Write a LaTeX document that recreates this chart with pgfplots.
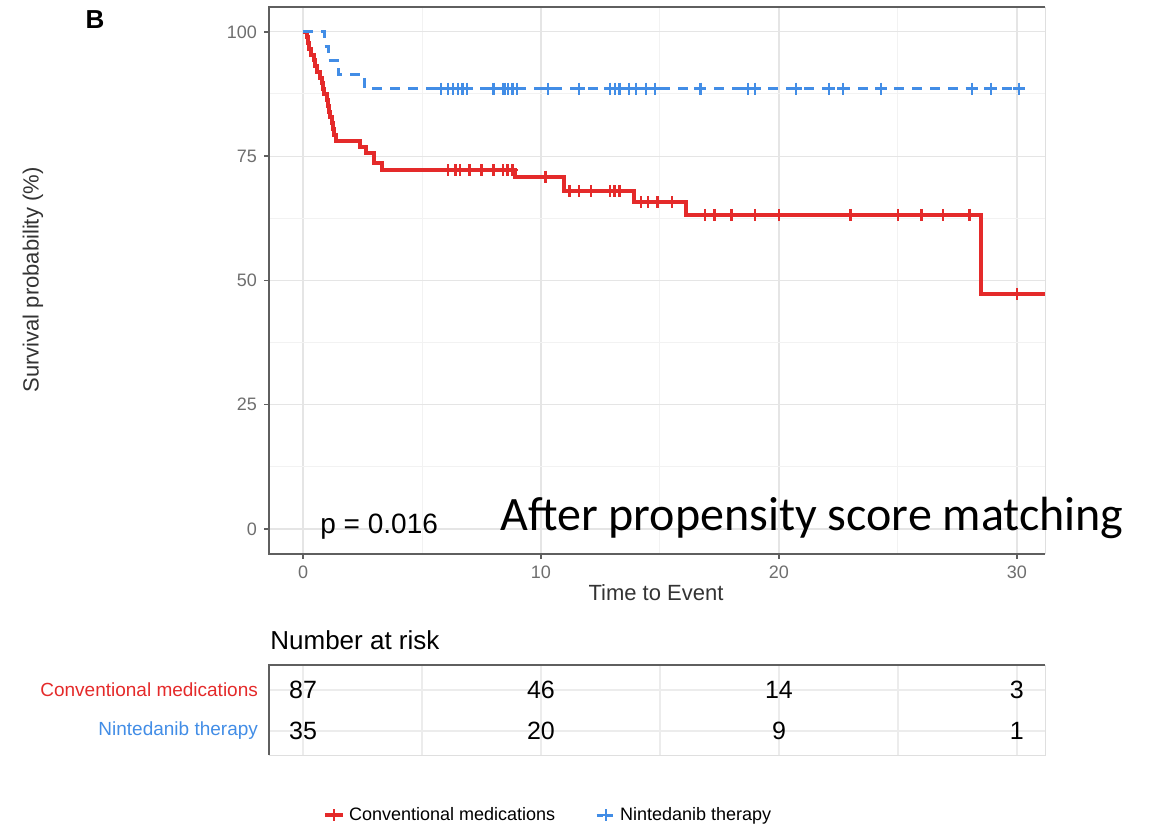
\documentclass[border=0pt]{standalone}
\usepackage{pgfplots}
\pgfplotsset{compat=1.18}
\usepackage{fontspec}
\setmainfont{Liberation Sans}
\newfontfamily\calibri{Carlito}
\definecolor{kmred}{RGB}{228,42,42}
\definecolor{kmblue}{RGB}{66,141,230}
\definecolor{tickgray}{RGB}{110,110,110}
\definecolor{framegray}{RGB}{95,95,95}
\begin{document}
\begin{tikzpicture}
\useasboundingbox (0,0) rectangle (575.5pt,413.5pt);
\begin{axis}[name=main, at={(134.5pt,136.6pt)}, anchor=south west,
  scale only axis, width=388pt, height=273.4pt,
  xmin=-1.43, xmax=31.18, ymin=-5, ymax=105,
  xtick={0,10,20,30}, ytick={0,25,50,75,100},
  minor xtick={5,15,25}, minor ytick={12.5,37.5,62.5,87.5},
  grid=both, major grid style={gray!20, line width=0.6pt},
  minor grid style={gray!10, line width=0.5pt},
  tick align=outside, xtick pos=bottom, ytick pos=left,
  major tick length=2.5pt, minor tick length=0pt,
  tick style={framegray, line width=0.8pt},
  tick label style={font=\fontsize{9}{10}\selectfont, text=tickgray},
  axis line style={gray!25, line width=0.5pt},
  /pgf/number format/assume math mode=true,
  legend style={at={(0.361,-0.478)}, anchor=center, draw=none, fill=none,
    font=\fontsize{9}{10}\selectfont, legend columns=2,
    /tikz/every even column/.append style={column sep=18pt}},
  legend image code/.code={\draw[mark repeat=2,mark phase=2,#1] plot coordinates {(0pt,0pt) (4.5pt,0pt) (9pt,0pt)};},
]
% Conventional medications
\addplot[const plot, kmred, line width=2pt, forget plot] coordinates {
(0,100) (0.15,98.9) (0.2,97.7) (0.25,96.6) (0.35,95.4) (0.45,94.3) (0.5,93.1)
(0.6,92.0) (0.7,90.8) (0.8,89.7) (0.85,88.5) (0.9,87.4) (1.0,86.2) (1.05,85.1)
(1.1,83.9) (1.15,82.8) (1.2,81.6) (1.25,80.5) (1.3,79.3) (1.4,78.0)
(2.4,76.9) (2.65,75.6) (3.0,73.6) (3.3,72.2) (8.9,70.9) (10.95,67.9)
(13.9,65.7) (16.1,63.2) (28.5,47.3) (31.18,47.3)};
\addplot[only marks, mark=+, mark size=3pt, kmred, line width=1.3pt, forget plot] coordinates {
(6.1,72.2) (6.4,72.2) (6.6,72.2) (7.0,72.2) (7.5,72.2) (8.0,72.2) (8.4,72.2) (8.6,72.2) (8.8,72.2)
(10.2,70.9)
(11.2,67.9) (11.6,67.9) (12.1,67.9) (12.9,67.9) (13.1,67.9) (13.3,67.9)
(14.2,65.7) (14.5,65.7) (14.9,65.7) (15.5,65.7)
(16.9,63.2) (17.3,63.2) (18.0,63.2) (19.0,63.2) (20.0,63.2) (23.0,63.2) (25.0,63.2) (26.0,63.2) (26.9,63.2) (28.0,63.2)
(30.0,47.3)};
% Nintedanib therapy
\addplot[const plot, kmblue, line width=1.5pt, dash pattern=on 5pt off 4pt, forget plot] coordinates {
(0,100) (0.9,97.1) (1.05,94.3) (1.5,91.4) (2.6,88.6) (30.1,88.6)};
\addplot[only marks, mark=+, mark size=3pt, kmblue, line width=1.1pt, forget plot] coordinates {
(5.8,88.6) (6.1,88.6) (6.3,88.6) (6.5,88.6) (6.7,88.6) (6.9,88.6)
(8.0,88.6) (8.4,88.6) (8.5,88.6) (8.6,88.6) (8.8,88.6) (9.0,88.6)
(10.3,88.6) (11.6,88.6) (12.9,88.6) (13.1,88.6) (13.3,88.6) (13.7,88.6) (14.0,88.6) (14.4,88.6) (14.8,88.6)
(16.7,88.6) (18.7,88.6) (19.0,88.6) (20.7,88.6) (22.1,88.6) (22.7,88.6) (24.3,88.6)
(28.1,88.6) (28.9,88.6) (30.1,88.6)};
\addlegendimage{kmred, line width=2pt, mark=+, mark size=3pt, mark options={solid, line width=1.2pt}}
\addlegendentry{Conventional medications}
\addlegendimage{kmblue, line width=1.5pt, dash pattern=on 3pt off 2pt, mark=+, mark size=3pt, mark options={solid, line width=1.1pt}}
\addlegendentry{Nintedanib therapy}
\end{axis}
\draw[framegray, line width=1pt] (main.south east) -- (main.south west) -- (main.north west) -- (main.north east);

% risk table
\begin{axis}[name=risk, at={(134.5pt,36pt)}, anchor=south west,
  scale only axis, width=388pt, height=45pt,
  xmin=-1.43, xmax=31.18, ymin=0.415, ymax=2.61,
  xtick={0,5,...,30}, xticklabels={}, ytick={1,2},
  yticklabels={{\color{kmblue}Nintedanib therapy},{\color{kmred}Conventional medications}},
  grid=major, major grid style={gray!15, line width=0.6pt},
  major tick length=0pt,
  axis line style={gray!25, line width=0.5pt},
  yticklabel style={font=\fontsize{9.5}{10}\selectfont, xshift=-2pt},
]
\node[font=\fontsize{12.5}{13}\selectfont] at (axis cs:0,2) {87};
\node[font=\fontsize{12.5}{13}\selectfont] at (axis cs:10,2) {46};
\node[font=\fontsize{12.5}{13}\selectfont] at (axis cs:20,2) {14};
\node[font=\fontsize{12.5}{13}\selectfont] at (axis cs:30,2) {3};
\node[font=\fontsize{12.5}{13}\selectfont] at (axis cs:0,1) {35};
\node[font=\fontsize{12.5}{13}\selectfont] at (axis cs:10,1) {20};
\node[font=\fontsize{12.5}{13}\selectfont] at (axis cs:20,1) {9};
\node[font=\fontsize{12.5}{13}\selectfont] at (axis cs:30,1) {1};
\end{axis}
\draw[framegray, line width=1pt] (risk.south west) -- (risk.north west) -- (risk.north east);

% texts
\node[font=\bfseries\fontsize{13}{14}\selectfont] at (47.5pt,403.5pt) {B};
\node[rotate=90, font=\fontsize{11}{12}\selectfont, text=black!80] at (16.5pt,273.5pt) {Survival probability (\%)};
\node[font=\fontsize{11}{12}\selectfont, text=black!80] at (328pt,117pt) {Time to Event};
\node[anchor=west, font=\fontsize{14}{15}\selectfont, inner sep=0pt] at (160pt,150pt) {p = 0.016};
\node[anchor=base west, font=\calibri\fontsize{24}{26}\selectfont, inner sep=0pt] at (250pt,148.5pt) {After propensity score matching};
\node[anchor=west, font=\fontsize{13}{14}\selectfont, inner sep=0pt] at (135pt,93.5pt) {Number at risk};
\end{tikzpicture}
\end{document}
